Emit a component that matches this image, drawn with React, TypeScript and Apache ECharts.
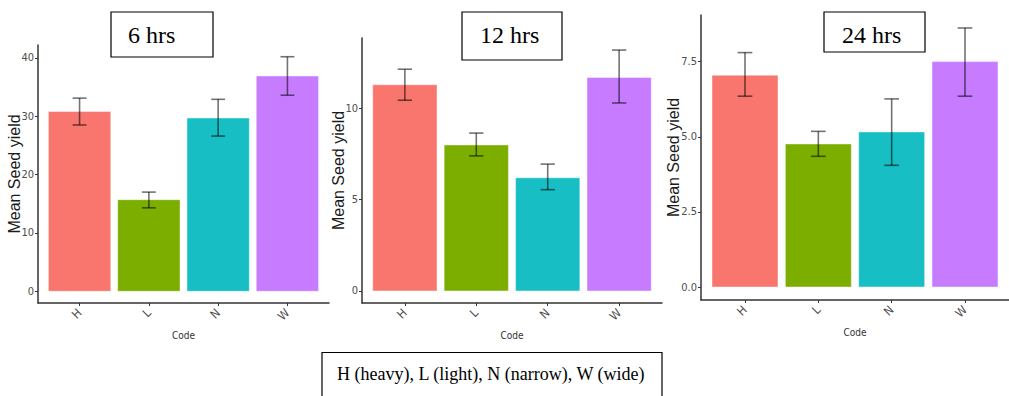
import React, { useEffect, useRef } from "react";
import * as echarts from "echarts";

const categories = ["H", "L", "N", "W"];
const panelTitles = ["6 hrs", "12 hrs", "24 hrs"];

const mean6 = [30.8, 15.7, 29.7, 36.9];
const lower6 = [28.5, 14.3, 26.6, 33.6];
const upper6 = [33.1, 17.0, 32.9, 40.2];

const mean12 = [11.3, 8.0, 6.2, 11.7];
const lower12 = [10.45, 7.4, 5.55, 10.3];
const upper12 = [12.15, 8.65, 6.95, 13.2];

const mean24 = [7.05, 4.76, 5.16, 7.5];
const lower24 = [6.35, 4.35, 4.05, 6.35];
const upper24 = [7.8, 5.18, 6.26, 8.62];

const yTicks6 = [0, 10, 20, 30, 40];
const yTicks12 = [0, 5, 10];
const yTicks24 = [0, 2.5, 5, 7.5];

const legendText = "H (heavy), L (light), N (narrow), W (wide)";
const barColors = ["#F8766D", "#7CAE00", "#17BFC4", "#C77CFF"];

const narrow = "'Liberation Sans Narrow', 'DejaVu Sans Condensed', 'Liberation Sans', Arial, sans-serif";
const serif = "'Liberation Serif', 'Times New Roman', serif";

export default function App() {
  const ref = useRef<HTMLDivElement>(null);

  useEffect(() => {
    if (!ref.current) return;
    const chart = echarts.init(ref.current, null, { renderer: "svg" });

    const panels = [
      { mean: mean6, lower: lower6, upper: upper6, ticks: yTicks6, dec: 0, grid: { left: 38, top: 45, width: 291, height: 258 }, nameGap: 16 },
      { mean: mean12, lower: lower12, upper: upper12, ticks: yTicks12, dec: 0, grid: { left: 362, top: 38, width: 300, height: 265 }, nameGap: 16 },
      { mean: mean24, lower: lower24, upper: upper24, ticks: yTicks24, dec: 1, grid: { left: 701, top: 15, width: 320, height: 285 }, nameGap: 20 },
    ];

    const grids: any[] = [];
    const xAxes: any[] = [];
    const yAxes: any[] = [];
    const series: any[] = [];
    const catIdx = categories.map((_, i) => i + 1);

    panels.forEach((p, k) => {
      const top = Math.max(...p.upper);
      grids.push({ ...p.grid, containLabel: false });
      xAxes.push({
        type: "value",
        gridIndex: k,
        min: 0.4,
        max: 4.6,
        name: "Code",
        nameLocation: "middle",
        nameGap: 27,
        nameMoveOverlap: false,
        nameTextStyle: { fontFamily: narrow, fontSize: 10, color: "#333" },
        axisLine: { show: true, onZero: false, lineStyle: { color: "#333", width: 1.5 } },
        axisTick: { show: true, customValues: catIdx, length: 3, lineStyle: { color: "#333" } },
        axisLabel: {
          customValues: catIdx,
          rotate: 45,
          margin: 8,
          fontFamily: narrow,
          fontSize: 12,
          color: "#4d4d4d",
          formatter: (v: number) => categories[Math.round(v) - 1] ?? "",
        },
        splitLine: { show: false },
      });
      yAxes.push({
        type: "value",
        gridIndex: k,
        min: -0.05 * top,
        max: 1.05 * top,
        name: "Mean Seed yield",
        nameLocation: "middle",
        nameRotate: 90,
        nameGap: p.nameGap,
        nameMoveOverlap: false,
        nameTextStyle: { fontFamily: "'Liberation Sans', Arial, sans-serif", fontSize: 16, color: "#1a1a1a" },
        axisLine: { show: true, onZero: false, lineStyle: { color: "#333", width: 1.5 } },
        axisTick: { show: true, customValues: p.ticks, length: 3, lineStyle: { color: "#333" } },
        axisLabel: {
          customValues: p.ticks,
          margin: 4,
          fontFamily: narrow,
          fontSize: 11,
          color: "#4d4d4d",
          formatter: (v: number) => v.toFixed(p.dec),
        },
        splitLine: { show: false },
      });
      series.push({
        type: "custom",
        xAxisIndex: k,
        yAxisIndex: k,
        clip: false,
        data: categories.map((_, i) => [i + 1, p.mean[i]]),
        renderItem: (params: any, api: any) => {
          const x = api.value(0);
          const y = api.value(1);
          const a = api.coord([x - 0.45, y]);
          const b = api.coord([x + 0.45, 0]);
          return {
            type: "rect",
            shape: { x: a[0], y: a[1], width: b[0] - a[0], height: b[1] - a[1] },
            style: { fill: barColors[params.dataIndex], stroke: "rgba(255,255,255,0.45)", lineWidth: 1 },
          };
        },
      });
      series.push({
        type: "custom",
        xAxisIndex: k,
        yAxisIndex: k,
        clip: false,
        data: categories.map((_, i) => [i + 1, p.lower[i], p.upper[i]]),
        renderItem: (params: any, api: any) => {
          const x = api.value(0);
          const lo = api.coord([x, api.value(1)]);
          const hi = api.coord([x, api.value(2)]);
          const l = api.coord([x - 0.1, 0])[0];
          const r = api.coord([x + 0.1, 0])[0];
          const st = { stroke: "rgba(0,0,0,0.55)", lineWidth: 1.6 };
          return {
            type: "group",
            children: [
              { type: "line", shape: { x1: lo[0], y1: lo[1], x2: hi[0], y2: hi[1] }, style: st },
              { type: "line", shape: { x1: l, y1: hi[1], x2: r, y2: hi[1] }, style: st },
              { type: "line", shape: { x1: l, y1: lo[1], x2: r, y2: lo[1] }, style: st },
            ],
          };
        },
      });
    });

    const boxes = [
      { x: 111, y: 12, w: 102, h: 45, tx: 128 },
      { x: 462, y: 12, w: 100, h: 48, tx: 480 },
      { x: 824, y: 12, w: 101, h: 40, tx: 842 },
    ];
    const graphic: any[] = [];
    boxes.forEach((b, i) => {
      graphic.push({
        type: "rect",
        z: 100,
        shape: { x: b.x, y: b.y, width: b.w, height: b.h },
        style: { fill: "#fff", stroke: "#000", lineWidth: 1.2 },
      });
      graphic.push({
        type: "text",
        z: 101,
        x: b.tx,
        y: 35,
        style: { text: panelTitles[i], font: `24px ${serif}`, fill: "#000", verticalAlign: "middle" },
      });
    });
    graphic.push({
      type: "rect",
      z: 100,
      shape: { x: 322, y: 352.5, width: 340, height: 60 },
      style: { fill: "#fff", stroke: "#000", lineWidth: 1.2 },
    });
    graphic.push({
      type: "text",
      z: 101,
      x: 337,
      y: 374,
      style: { text: legendText, font: `18px ${serif}`, fill: "#000", verticalAlign: "middle" },
    });

    chart.setOption({
      animation: false,
      backgroundColor: "#fff",
      grid: grids,
      xAxis: xAxes,
      yAxis: yAxes,
      series,
      graphic,
    });

    return () => chart.dispose();
  }, []);

  return (
    <div
      ref={ref}
      style={{ position: "absolute", left: 0, top: 0, width: 1009, height: 396 }}
    />
  );
}
